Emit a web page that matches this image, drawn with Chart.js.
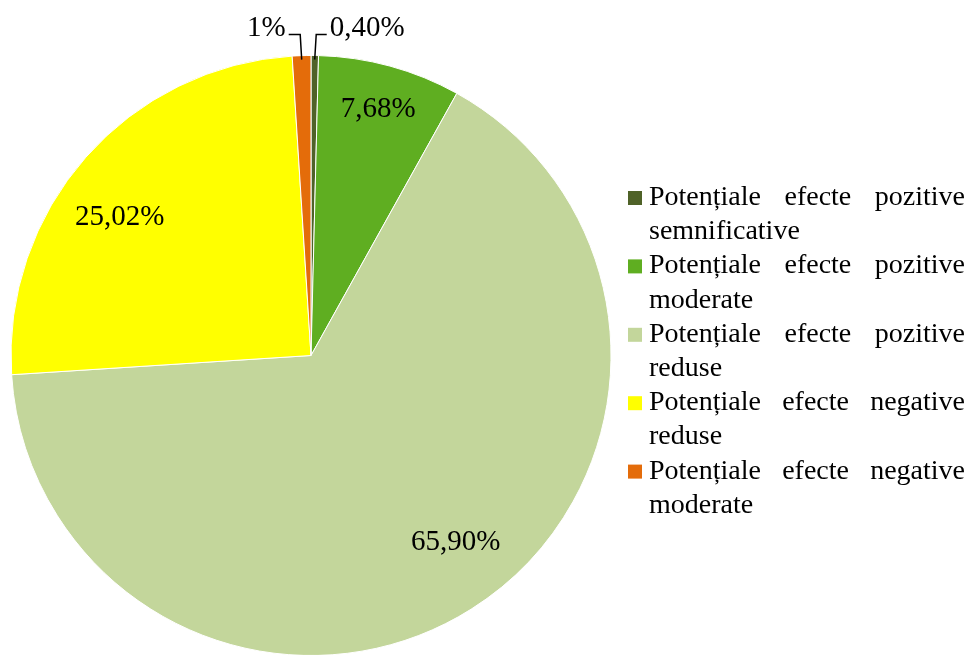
<!DOCTYPE html>
<html>
<head>
<meta charset="utf-8">
<script src="https://cdn.jsdelivr.net/npm/chart.js@4.4.0/dist/chart.umd.min.js"></script>
<style>
  body { margin: 0; background: #fff; }
</style>
</head>
<body>
<canvas id="myChart" width="969" height="655"></canvas>
<script>
// slices, clockwise from 12 o'clock
const categories = [
  'Potențiale efecte pozitive semnificative',
  'Potențiale efecte pozitive moderate',
  'Potențiale efecte pozitive reduse',
  'Potențiale efecte negative reduse',
  'Potențiale efecte negative moderate'
];
const shares = [0.40, 7.68, 65.90, 25.02, 1];
const shareLabels = ['0,40%', '7,68%', '65,90%', '25,02%', '1%'];
const colors = ['#4f6228', '#5fae21', '#c3d69b', '#ffff00', '#e46c0a'];

const serif = '"Liberation Serif", "DejaVu Serif", serif';

// percentage labels, small slices get a leader line above the pie
const sliceLabels = {
  id: 'sliceLabels',
  afterDatasetsDraw(chart) {
    const ctx = chart.ctx;
    const arcs = chart.getDatasetMeta(0).data;
    ctx.save();
    ctx.font = '29px ' + serif;
    ctx.fillStyle = '#000';
    ctx.textBaseline = 'middle';
    arcs.forEach((arc, i) => {
      const { x, y, startAngle, endAngle, outerRadius } = arc.getProps(['x', 'y', 'startAngle', 'endAngle', 'outerRadius'], true);
      let mid = (startAngle + endAngle) / 2;
      if (shares[i] < 2) {
        const px = x + Math.cos(mid) * (outerRadius - 4);
        const py = y + Math.sin(mid) * (outerRadius - 4);
        const ly = y - outerRadius - 21;
        const right = Math.cos(mid) > 0;
        const ex = right ? px + 12 : px - 13;
        ctx.strokeStyle = '#000';
        ctx.lineWidth = 1.5;
        ctx.beginPath();
        ctx.moveTo(px, py);
        ctx.lineTo(right ? px + 1.5 : px - 1.5, ly);
        ctx.lineTo(ex, ly);
        ctx.stroke();
        ctx.textAlign = right ? 'left' : 'right';
        ctx.fillText(shareLabels[i], right ? ex + 3 : ex - 3, ly - 6);
      } else {
        let f = 0.85;
        if (shares[i] > 10) {
          f = 0.787;
          mid -= 5.5 * Math.PI / 180;
        }
        ctx.textAlign = 'center';
        ctx.fillText(shareLabels[i], x + Math.cos(mid) * outerRadius * f, y + Math.sin(mid) * outerRadius * f);
      }
    });
    ctx.restore();
  }
};

// legend on the right with justified text
const sideLegend = {
  id: 'sideLegend',
  afterDraw(chart) {
    const ctx = chart.ctx;
    const left = 649, right = 965, lineH = 34.2;
    let base = 205;
    ctx.save();
    ctx.font = '28px ' + serif;
    ctx.fillStyle = '#000';
    ctx.textBaseline = 'alphabetic';
    ctx.textAlign = 'left';
    const width = right - left;
    categories.forEach((cat, i) => {
      ctx.fillStyle = colors[i];
      ctx.fillRect(628, base - 14, 14, 14);
      ctx.fillStyle = '#000';
      const words = cat.split(' ');
      const lines = [];
      let cur = [];
      words.forEach(w => {
        const test = cur.concat(w).join(' ');
        if (cur.length && ctx.measureText(test).width > width) {
          lines.push(cur);
          cur = [w];
        } else {
          cur.push(w);
        }
      });
      if (cur.length) lines.push(cur);
      lines.forEach((ws, li) => {
        if (li < lines.length - 1 && ws.length > 1) {
          const total = ws.reduce((s, w) => s + ctx.measureText(w).width, 0);
          const gap = (width - total) / (ws.length - 1);
          let xx = left;
          ws.forEach(w => {
            ctx.fillText(w, xx, base);
            xx += ctx.measureText(w).width + gap;
          });
        } else {
          ctx.fillText(ws.join(' '), left, base);
        }
        base += lineH;
      });
    });
    ctx.restore();
  }
};

new Chart(document.getElementById('myChart'), {
  type: 'pie',
  data: {
    labels: categories,
    datasets: [{
      data: shares,
      backgroundColor: colors,
      borderColor: '#ffffff',
      borderWidth: 1
    }]
  },
  options: {
    responsive: false,
    animation: false,
    radius: 300,
    layout: { padding: { top: 56, right: 347, left: 0, bottom: 0 } },
    plugins: {
      legend: { display: false },
      tooltip: { enabled: false }
    }
  },
  plugins: [sliceLabels, sideLegend]
});
</script>
</body>
</html>
